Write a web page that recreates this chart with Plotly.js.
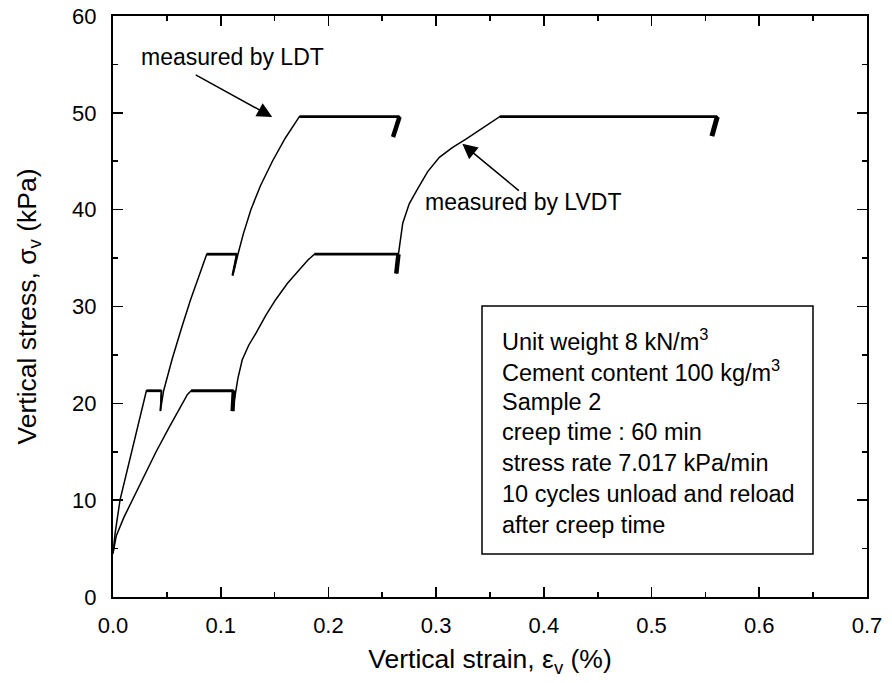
<!DOCTYPE html>
<html>
<head>
<meta charset="utf-8">
<script src="https://cdn.plot.ly/plotly-3.0.1.min.js"></script>
<style>
  html, body { margin: 0; padding: 0; background: #fff; }
  #chart { width: 892px; height: 683px; }
</style>
</head>
<body>
<div id="chart"></div>
<script>
// ---- LDT (local deformation transducer) loading branches ----
const ldtBranch1Strain = [0, 0.002, 0.0065, 0.012, 0.017, 0.024, 0.031];
const ldtBranch1Stress = [4.5, 6.6, 10.0, 12.6, 15.0, 18.1, 21.3];
const ldtBranch2Strain = [0.044, 0.047, 0.055, 0.064, 0.072, 0.080, 0.087];
const ldtBranch2Stress = [19.2, 21.3, 24.6, 27.9, 30.7, 33.2, 35.4];
const ldtBranch3Strain = [0.111, 0.113, 0.116, 0.121, 0.128, 0.137, 0.148, 0.160, 0.173];
const ldtBranch3Stress = [33.2, 34.0, 35.4, 37.5, 40.0, 42.5, 45.0, 47.4, 49.6];
// creep stages: level, strain at start / end of creep, point reached by unloading
const ldtCreepStress   = [21.3, 35.4, 49.6];
const ldtCreepStart    = [0.031, 0.087, 0.173];
const ldtCreepEnd      = [0.045, 0.115, 0.266];
const ldtUnloadStrain  = [0.044, 0.111, 0.260];
const ldtUnloadStress  = [19.2, 33.2, 47.5];

// ---- LVDT (external displacement transducer) loading branches ----
const lvdtBranch1Strain = [0, 0.003, 0.010, 0.018, 0.029, 0.040, 0.052, 0.064, 0.069, 0.0725];
const lvdtBranch1Stress = [4.5, 6.3, 8.2, 10.0, 12.5, 15.0, 17.5, 20.0, 20.9, 21.3];
const lvdtBranch2Strain = [0.111, 0.113, 0.116, 0.120, 0.126, 0.133, 0.142, 0.151, 0.162, 0.173, 0.181, 0.187];
const lvdtBranch2Stress = [19.2, 20.6, 22.6, 24.5, 26.0, 27.3, 29.1, 30.7, 32.4, 33.8, 34.8, 35.4];
const lvdtBranch3Strain = [0.263, 0.265, 0.269, 0.275, 0.282, 0.292, 0.303, 0.315, 0.328, 0.342, 0.359];
const lvdtBranch3Stress = [33.4, 35.4, 38.6, 40.6, 42.0, 43.9, 45.4, 46.4, 47.3, 48.3, 49.6];
const lvdtCreepStress   = [21.3, 35.4, 49.6];
const lvdtCreepStart    = [0.0725, 0.187, 0.359];
const lvdtCreepEnd      = [0.112, 0.265, 0.561];
const lvdtUnloadStrain  = [0.111, 0.263, 0.556];
const lvdtUnloadStress  = [19.2, 33.4, 47.6];

// ---- axis ticks ----
const strainTicks = [0, 0.1, 0.2, 0.3, 0.4, 0.5, 0.6, 0.7];
const strainTickLabels = ['0.0', '0.1', '0.2', '0.3', '0.4', '0.5', '0.6', '0.7'];
const stressTicks = [0, 10, 20, 30, 40, 50, 60];

// ---- specimen notes ----
const noteLines = [
  'Unit weight 8 kN/m<sup>3</sup>',
  'Cement content 100 kg/m<sup>3</sup>',
  'Sample 2',
  'creep time : 60 min',
  'stress rate 7.017 kPa/min',
  '10 cycles unload and reload',
  'after creep time'
];

const FONT = 'Liberation Sans, Arial, Helvetica, sans-serif';
const traces = [];

function addSensor(branches, creepStress, creepStart, creepEnd, unloadStrain, unloadStress, cycleWidths) {
  // thin loading curve: branch -> creep -> unload -> next branch ...
  const xs = [], ys = [];
  branches.forEach((b, i) => {
    xs.push(...b[0]); ys.push(...b[1]);
    xs.push(creepEnd[i], unloadStrain[i]);
    ys.push(creepStress[i], unloadStress[i]);
  });
  traces.push({x: xs, y: ys, mode: 'lines', line: {color: '#000', width: 1.5}, hoverinfo: 'skip', showlegend: false});
  // creep plateaus (slightly heavier, noisy record)
  creepStress.forEach((s, i) => {
    traces.push({x: [creepStart[i], creepEnd[i]], y: [s, s], mode: 'lines',
      line: {color: '#000', width: 2.8}, hoverinfo: 'skip', showlegend: false});
    // unload / reload cycles form a thick bar
    traces.push({x: [creepEnd[i], unloadStrain[i]], y: [s, unloadStress[i]], mode: 'lines',
      line: {color: '#000', width: cycleWidths[i]}, hoverinfo: 'skip', showlegend: false});
  });
}

addSensor([[ldtBranch1Strain, ldtBranch1Stress], [ldtBranch2Strain, ldtBranch2Stress], [ldtBranch3Strain, ldtBranch3Stress]],
  ldtCreepStress, ldtCreepStart, ldtCreepEnd, ldtUnloadStrain, ldtUnloadStress, [1.6, 2.2, 4.5]);
addSensor([[lvdtBranch1Strain, lvdtBranch1Stress], [lvdtBranch2Strain, lvdtBranch2Stress], [lvdtBranch3Strain, lvdtBranch3Stress]],
  lvdtCreepStress, lvdtCreepStart, lvdtCreepEnd, lvdtUnloadStrain, lvdtUnloadStress, [4.2, 4.5, 5]);

// plot area in pixels: left 113, top 16, width 754, height 581
const L = 113, T = 16, W = 754, H = 581;
const px = v => (v - L) / W;
const py = v => (T + H - v) / H;

const annotations = [
  {x: 0.1478, y: 49.57, xref: 'x', yref: 'y', ax: -78, ay: -43, text: '', showarrow: true,
   arrowhead: 2, arrowsize: 2, arrowwidth: 1.5, arrowcolor: '#000'},
  {x: 0.3243, y: 46.8, xref: 'x', yref: 'y', ax: 58, ay: 48, text: '', showarrow: true,
   arrowhead: 2, arrowsize: 2, arrowwidth: 1.5, arrowcolor: '#000'},
  {x: px(139), y: py(57), xref: 'paper', yref: 'paper', xanchor: 'left', yanchor: 'middle',
   text: 'measured by LDT', showarrow: false, font: {family: FONT, size: 23, color: '#000'}},
  {x: px(423), y: py(202), xref: 'paper', yref: 'paper', xanchor: 'left', yanchor: 'middle',
   text: 'measured by LVDT', showarrow: false, font: {family: FONT, size: 23, color: '#000'}}
];
noteLines.forEach((t, i) => {
  annotations.push({x: px(500), y: py(340 + i * 30.8), xref: 'paper', yref: 'paper',
    xanchor: 'left', yanchor: 'middle', text: t, showarrow: false,
    font: {family: FONT, size: 23.5, color: '#000'}});
});

const axisCommon = {
  showline: true, linecolor: '#000', linewidth: 2, mirror: 'ticks',
  ticks: 'inside', ticklen: 10, tickwidth: 1.6, tickcolor: '#000',
  showgrid: false, zeroline: false,
  tickfont: {family: FONT, size: 22, color: '#000'}
};

const layout = {
  width: 892, height: 683,
  margin: {l: L, r: 892 - L - W, t: T, b: 683 - T - H},
  paper_bgcolor: '#fff', plot_bgcolor: '#fff',
  showlegend: false,
  xaxis: Object.assign({}, axisCommon, {
    range: [0, 0.7], tickvals: strainTicks, ticktext: strainTickLabels,
    minor: {ticks: 'inside', ticklen: 5, tickwidth: 1.6, tickcolor: '#000', dtick: 0.05, tick0: 0},
    ticklabelstandoff: 8,
    title: {text: 'Vertical strain, ε<sub>v</sub> (%)', font: {family: FONT, size: 26.5, color: '#000'}, standoff: 12}
  }),
  yaxis: Object.assign({}, axisCommon, {
    range: [0, 60], tickvals: stressTicks,
    minor: {ticks: 'inside', ticklen: 5, tickwidth: 1.6, tickcolor: '#000', dtick: 5, tick0: 0},
    ticklabelstandoff: 10,
    title: {text: 'Vertical stress, σ<sub>v</sub> (kPa)', font: {family: FONT, size: 26.5, color: '#000'}, standoff: 28}
  }),
  shapes: [
    {type: 'rect', xref: 'paper', yref: 'paper', x0: px(482), x1: px(813), y0: py(554), y1: py(306),
     line: {color: '#000', width: 1.5}, fillcolor: 'rgba(0,0,0,0)'}
  ],
  annotations: annotations
};

Plotly.newPlot('chart', traces, layout, {staticPlot: true, displayModeBar: false});
</script>
</body>
</html>
